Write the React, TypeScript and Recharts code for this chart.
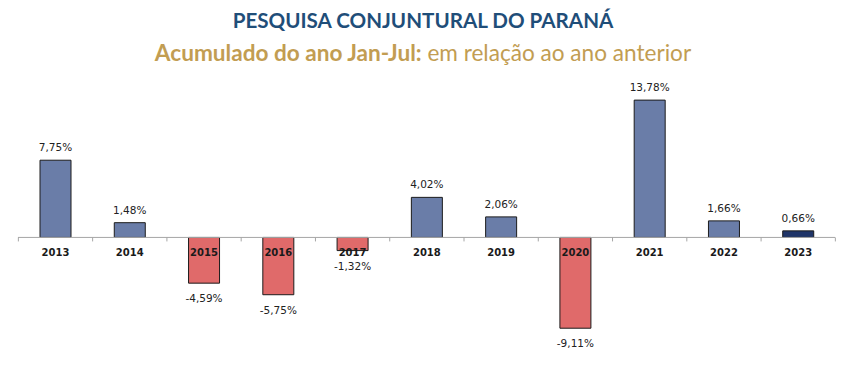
import React from 'react';
import { BarChart, Bar, XAxis, YAxis, Cell, ReferenceLine, LabelList } from 'recharts';

const years = ['2013', '2014', '2015', '2016', '2017', '2018', '2019', '2020', '2021', '2022', '2023'];
const values = [7.75, 1.48, -4.59, -5.75, -1.32, 4.02, 2.06, -9.11, 13.78, 1.66, 0.66];
const titleText = 'PESQUISA CONJUNTURAL DO PARANÁ';
const subtitleBold = 'Acumulado do ano Jan-Jul:';
const subtitleRest = ' em relação ao ano anterior';

const data = years.map((y, i) => ({ year: y, value: values[i] }));

const W = 846;
const H = 387;
const M = { top: 78, right: 11, bottom: 30, left: 18 };
const BAND = (W - M.left - M.right) / years.length;

const POS = '#6A7DA8';
const NEG = '#E06A6A';
const LAST = '#1F3468';

const fmt = (v: number) => v.toFixed(2).replace('.', ',') + '%';

const ValueLabel = (props: any) => {
  const { x, y, width, height, value } = props;
  const top = Math.min(y, y + height);
  const bottom = Math.max(y, y + height);
  const cx = x + width / 2;
  const ty = value >= 0 ? top - 13 : bottom + 15;
  return (
    <text x={cx} y={ty} textAnchor="middle" dominantBaseline="central"
      fontFamily="DejaVu Sans" fontSize={10.5} fill="#222">
      {fmt(value)}
    </text>
  );
};

const CatLabel = (props: any) => {
  const { x, y, width, height, index } = props;
  const zeroY = y + height;
  const cx = x + width / 2;
  return (
    <g>
      <line x1={cx - BAND / 2} x2={cx - BAND / 2} y1={zeroY} y2={zeroY + 4} stroke="#A6A6A6" strokeWidth={1} />
      {index === years.length - 1 && (
        <line x1={cx + BAND / 2} x2={cx + BAND / 2} y1={zeroY} y2={zeroY + 4} stroke="#A6A6A6" strokeWidth={1} />
      )}
      <text x={cx} y={zeroY + 15} textAnchor="middle" dominantBaseline="central"
        fontFamily="DejaVu Sans" fontWeight="bold" fontSize={10} fill="#1a1a1a">
        {years[index]}
      </text>
    </g>
  );
};

export default function App() {
  return (
    <div style={{ position: 'absolute', left: 0, top: 0, width: W, height: H, background: '#fff' }}>
      <div style={{ position: 'absolute', left: 0, top: 8, width: W, textAlign: 'center',
        fontFamily: 'Lato', fontWeight: 'bold', fontSize: 20.6, color: '#1F4E79', whiteSpace: 'nowrap' }}>
        {titleText}
      </div>
      <div style={{ position: 'absolute', left: 0, top: 39, width: W, textAlign: 'center',
        fontFamily: 'Lato', fontSize: 22.6, color: '#C29D52', whiteSpace: 'nowrap' }}>
        <span style={{ fontWeight: 'bold' }}>{subtitleBold}</span>{subtitleRest}
      </div>
      <div style={{ position: 'absolute', left: 0, top: 0 }}>
        <BarChart width={W} height={H} data={data} margin={M}>
          <XAxis dataKey="year" hide />
          <YAxis hide domain={[-12, 16]} />
          <ReferenceLine y={0} stroke="#A6A6A6" strokeWidth={1} />
          <Bar dataKey="value" barSize={31} stroke="#1c1c1c" strokeWidth={1} isAnimationActive={false}>
            {data.map((d, i) => (
              <Cell key={d.year} fill={i === data.length - 1 ? LAST : d.value >= 0 ? POS : NEG} />
            ))}
            <LabelList dataKey="value" content={ValueLabel} />
            <LabelList dataKey="value" content={CatLabel} />
          </Bar>
        </BarChart>
      </div>
    </div>
  );
}
